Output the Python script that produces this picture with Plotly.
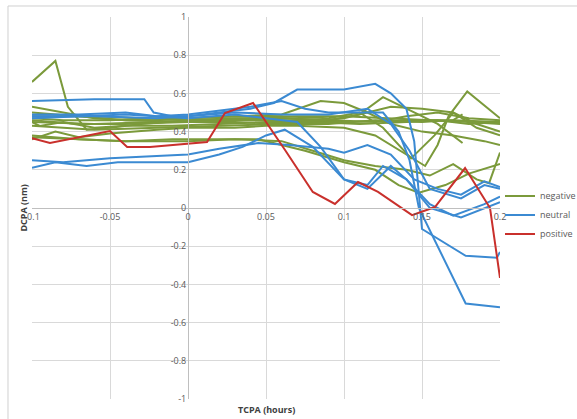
import plotly.graph_objects as go

# ---- data: TCPA (hours) vs DCPA (nm) tracks, grouped by outcome ----
negative_x = [
    [-0.1, -0.085, -0.077, -0.065, -0.05, -0.03, 0, 0.03, 0.06, 0.09, 0.12, 0.14, 0.16, 0.18, 0.2],
    [-0.1, -0.08, -0.06, -0.04, -0.02, 0, 0.03, 0.06, 0.085, 0.1, 0.115, 0.13, 0.15, 0.17, 0.19, 0.2],
    [-0.1, -0.07, -0.04, 0, 0.03, 0.06, 0.09, 0.11, 0.125, 0.14, 0.16, 0.176],
    [-0.1, -0.08, -0.05, -0.02, 0, 0.03, 0.06, 0.09, 0.11, 0.125, 0.143, 0.158, 0.17, 0.185, 0.2],
    [-0.1, -0.06, -0.02, 0.02, 0.06, 0.1, 0.14, 0.17, 0.2],
    [-0.1, -0.095, -0.08, -0.06, -0.04, -0.01, 0.02, 0.05, 0.08, 0.11, 0.14, 0.16, 0.18, 0.2],
    [-0.1, -0.085, -0.07, -0.05, -0.02, 0, 0.03, 0.05, 0.07, 0.1, 0.12, 0.14, 0.152, 0.16, 0.167, 0.179, 0.2],
    [-0.1, -0.07, -0.04, -0.01, 0.02, 0.045, 0.06, 0.075, 0.1, 0.12, 0.135, 0.148, 0.165, 0.18, 0.2],
    [-0.1, -0.07, -0.04, 0, 0.03, 0.06, 0.08, 0.1, 0.12, 0.14, 0.155, 0.17, 0.185, 0.193, 0.2],
    [-0.1, -0.06, -0.03, 0, 0.04, 0.07, 0.1, 0.13, 0.16, 0.18, 0.2],
    [-0.1, -0.07, -0.04, 0, 0.03, 0.06, 0.09, 0.12, 0.15, 0.17, 0.176],
    [-0.1, -0.06, -0.02, 0.02, 0.06, 0.1, 0.13, 0.15, 0.17, 0.185, 0.2],
]
negative_y = [
    [0.66, 0.77, 0.53, 0.41, 0.42, 0.44, 0.46, 0.47, 0.47, 0.46, 0.45, 0.48, 0.50, 0.47, 0.46],
    [0.53, 0.50, 0.47, 0.46, 0.46, 0.47, 0.48, 0.49, 0.56, 0.55, 0.50, 0.44, 0.40, 0.38, 0.35, 0.33],
    [0.50, 0.48, 0.46, 0.45, 0.46, 0.47, 0.46, 0.49, 0.58, 0.52, 0.44, 0.34],
    [0.47, 0.46, 0.46, 0.47, 0.47, 0.48, 0.48, 0.47, 0.50, 0.42, 0.26, 0.38, 0.50, 0.42, 0.38],
    [0.45, 0.44, 0.45, 0.46, 0.46, 0.45, 0.46, 0.46, 0.45],
    [0.45, 0.43, 0.45, 0.42, 0.43, 0.43, 0.44, 0.45, 0.45, 0.44, 0.45, 0.46, 0.44, 0.45],
    [0.36, 0.40, 0.37, 0.39, 0.41, 0.42, 0.42, 0.43, 0.43, 0.42, 0.38, 0.28, 0.22, 0.33, 0.48, 0.61, 0.47],
    [0.37, 0.36, 0.35, 0.36, 0.36, 0.36, 0.33, 0.30, 0.24, 0.20, 0.12, 0.08, 0.12, 0.18, 0.23],
    [0.38, 0.36, 0.35, 0.35, 0.36, 0.35, 0.30, 0.25, 0.22, 0.20, 0.17, 0.23, 0.15, 0.13, 0.29],
    [0.48, 0.48, 0.47, 0.46, 0.47, 0.48, 0.48, 0.47, 0.46, 0.45, 0.44],
    [0.46, 0.44, 0.44, 0.45, 0.45, 0.44, 0.44, 0.46, 0.45, 0.46, 0.49],
    [0.43, 0.41, 0.42, 0.43, 0.44, 0.47, 0.53, 0.52, 0.50, 0.44, 0.40],
]

neutral_x = [
    [-0.1, -0.06, -0.028, -0.022, -0.01, 0, 0.02, 0.04, 0.055, 0.07, 0.085, 0.1, 0.12, 0.13, 0.14, 0.145, 0.15, 0.178, 0.198, 0.2],
    [-0.1, -0.07, -0.04, -0.02, 0, 0.02, 0.04, 0.06, 0.075, 0.09, 0.11, 0.125, 0.135, 0.142, 0.148, 0.178, 0.2],
    [-0.1, -0.06, -0.02, 0, 0.03, 0.06, 0.09, 0.115, 0.13, 0.142, 0.155, 0.175, 0.19, 0.2],
    [-0.1, -0.07, -0.04, 0, 0.03, 0.05, 0.07, 0.085, 0.1, 0.115, 0.125, 0.14, 0.155, 0.17, 0.19, 0.2],
    [-0.1, -0.08, -0.05, -0.02, 0, 0.02, 0.045, 0.065, 0.09, 0.1, 0.115, 0.13, 0.145, 0.16, 0.175, 0.19, 0.2],
    [-0.1, -0.085, -0.065, -0.045, -0.02, 0, 0.02, 0.035, 0.05, 0.062, 0.08, 0.1, 0.115, 0.13, 0.14, 0.155, 0.175, 0.2],
]
neutral_y = [
    [0.56, 0.57, 0.57, 0.50, 0.48, 0.48, 0.50, 0.52, 0.55, 0.62, 0.62, 0.62, 0.65, 0.60, 0.52, 0.35, -0.11, -0.25, -0.26, -0.23],
    [0.49, 0.49, 0.50, 0.48, 0.49, 0.51, 0.53, 0.56, 0.52, 0.50, 0.50, 0.50, 0.40, 0.25, 0.0, -0.50, -0.52],
    [0.48, 0.48, 0.47, 0.48, 0.50, 0.49, 0.49, 0.52, 0.44, 0.30, 0.10, 0.05, 0.12, 0.10],
    [0.47, 0.48, 0.49, 0.47, 0.49, 0.47, 0.45, 0.32, 0.15, 0.12, 0.22, 0.15, 0.02, -0.04, 0.02, 0.06],
    [0.25, 0.24, 0.26, 0.27, 0.28, 0.31, 0.34, 0.33, 0.31, 0.29, 0.33, 0.28, 0.15, 0.10, 0.07, 0.14, 0.11],
    [0.21, 0.24, 0.22, 0.24, 0.24, 0.24, 0.28, 0.32, 0.38, 0.41, 0.32, 0.15, 0.10, 0.22, 0.15, 0.0, -0.05, 0.03],
]

positive_x = [
    [-0.1, -0.0885, -0.05, -0.039, -0.0244, 0.0122, 0.0237, 0.0417, 0.0622, 0.08, 0.0942, 0.109, 0.1218, 0.1436, 0.1583, 0.1776, 0.1936, 0.2],
]
positive_y = [
    [0.366, 0.34, 0.403, 0.319, 0.319, 0.345, 0.497, 0.55, 0.304, 0.084, 0.021, 0.136, 0.084, -0.037, 0.005, 0.209, 0.0, -0.366],
]

x_ticks = [-0.1, -0.05, 0, 0.05, 0.1, 0.15, 0.2]
x_tick_labels = ["-0.1", "-0.05", "0", "0.05", "0.1", "0.15", "0.2"]
y_ticks = [-1, -0.8, -0.6, -0.4, -0.2, 0, 0.2, 0.4, 0.6, 0.8, 1]
y_tick_labels = ["-1", "-0.8", "-0.6", "-0.4", "-0.2", "0", "0.2", "0.4", "0.6", "0.8", "1"]

groups = [
    ("negative", "#7B9A3B", negative_x, negative_y),
    ("neutral", "#3B8AD2", neutral_x, neutral_y),
    ("positive", "#C9302C", positive_x, positive_y),
]

fig = go.Figure()
for name, color, xs, ys in groups:
    for i, (xv, yv) in enumerate(zip(xs, ys)):
        fig.add_trace(go.Scatter(
            x=xv, y=yv, mode="lines", name=name, legendgroup=name,
            showlegend=(i == 0),
            line=dict(color=color, width=2),
            hoverinfo="skip",
        ))

font_family = "Open Sans, Liberation Sans, sans-serif"
tick_font = dict(family=font_family, size=9, color="#595959")

x_min, x_max = -0.1, 0.2
y_min, y_max = -1, 1

fig.update_layout(
    width=577, height=419,
    margin=dict(l=32, r=77, t=17, b=20, autoexpand=False),
    paper_bgcolor="white", plot_bgcolor="white",
    font=dict(family=font_family, size=9, color="#595959"),
    xaxis=dict(
        range=[x_min, x_max], tickvals=x_ticks, ticktext=x_tick_labels,
        showgrid=True, gridcolor="#D9D9D9", gridwidth=1,
        zeroline=False, showline=True, linecolor="#BFBFBF", linewidth=1,
        anchor="free", position=(0 - y_min) / (y_max - y_min),
        tickfont=tick_font, ticks="", fixedrange=True,
    ),
    yaxis=dict(
        range=[y_min, y_max], tickvals=y_ticks, ticktext=y_tick_labels,
        showgrid=True, gridcolor="#D9D9D9", gridwidth=1,
        zeroline=False, showline=True, linecolor="#BFBFBF", linewidth=1,
        anchor="free", position=(0 - x_min) / (x_max - x_min),
        tickfont=tick_font, ticks="", fixedrange=True,
    ),
    legend=dict(
        x=1.0, y=0.482, xanchor="left", yanchor="middle",
        font=dict(family=font_family, size=9, color="#595959"),
        itemwidth=30, tracegroupgap=0, bgcolor="rgba(0,0,0,0)",
    ),
    annotations=[
        dict(text="<b>DCPA (nm)</b>", x=-0.002, y=0.5, xref="paper", yref="paper",
             textangle=-90, showarrow=False, xanchor="right", yanchor="middle",
             font=dict(family=font_family, size=9, color="#404040")),
        dict(text="<b>TCPA (hours)</b>", x=0.5, y=-0.005, xref="paper", yref="paper",
             showarrow=False, xanchor="center", yanchor="top",
             font=dict(family=font_family, size=9, color="#404040")),
    ],
    shapes=[
        dict(type="line", xref="paper", yref="paper", x0=-0.0513, x1=1.17,
             y0=1.0288, y1=1.0288, line=dict(color="#D0D0D0", width=1)),
        dict(type="line", xref="paper", yref="paper", x0=-0.0513, x1=-0.0513,
             y0=1.0288, y1=-0.06, line=dict(color="#D0D0D0", width=1)),
    ],
)

fig.write_html("out.html")
